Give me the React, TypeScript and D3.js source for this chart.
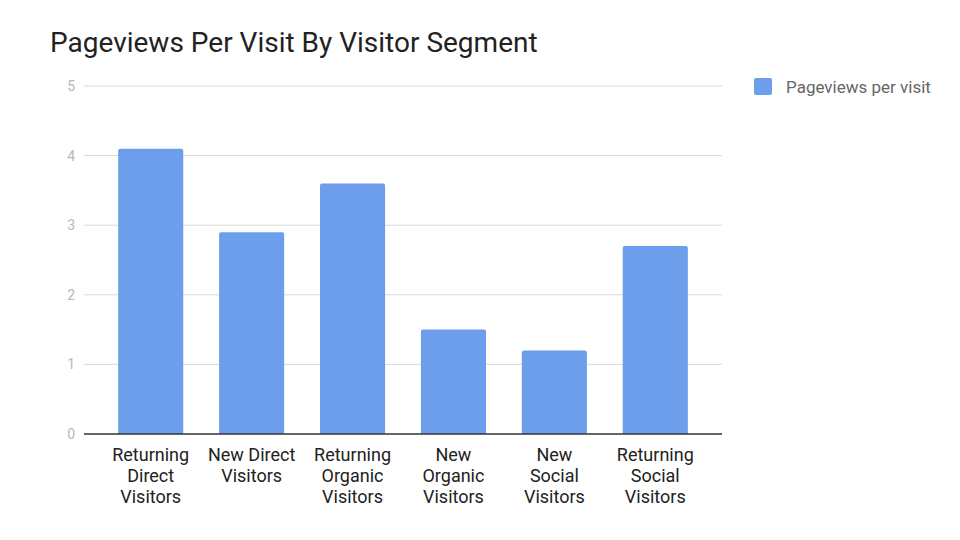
import { useEffect, useRef } from "react";
import * as d3 from "d3";

const categories = [
  ["Returning", "Direct", "Visitors"],
  ["New Direct", "Visitors"],
  ["Returning", "Organic", "Visitors"],
  ["New", "Organic", "Visitors"],
  ["New", "Social", "Visitors"],
  ["Returning", "Social", "Visitors"],
];
const pageviews = [4.1, 2.9, 3.6, 1.5, 1.2, 2.7];
const yTicks = [0, 1, 2, 3, 4, 5];
const seriesName = "Pageviews per visit";

export default function App() {
  const ref = useRef<SVGSVGElement>(null);

  useEffect(() => {
    if (!ref.current) return;
    const svg = d3.select(ref.current);
    svg.selectAll("*").remove();

    const font = "Roboto, 'Noto Sans', sans-serif";
    const left = 84, right = 722, top = 86, bottom = 434;

    const y = d3.scaleLinear().domain([0, 5]).range([bottom, top]);
    const x = d3.scaleBand<number>()
      .domain(d3.range(categories.length))
      .range([100, 706])
      .paddingInner(0.355)
      .paddingOuter(0.18);

    svg.append("text")
      .attr("x", 50).attr("y", 52)
      .attr("font-family", font).attr("font-size", 28)
      .attr("fill", "#222")
      .text("Pageviews Per Visit By Visitor Segment");

    // gridlines
    svg.append("g").selectAll("line")
      .data(yTicks.filter(t => t > 0))
      .join("line")
      .attr("x1", left).attr("x2", right)
      .attr("y1", d => y(d)).attr("y2", d => y(d))
      .attr("stroke", "#d9d9d9").attr("stroke-width", 1);

    svg.append("g").selectAll("text")
      .data(yTicks)
      .join("text")
      .attr("x", 75).attr("y", d => y(d) + 5)
      .attr("text-anchor", "end")
      .attr("font-family", font).attr("font-size", 14)
      .attr("fill", "#b7b7b7")
      .text(d => d);

    // bars with slightly rounded tops
    svg.append("g").selectAll("path")
      .data(pageviews)
      .join("path")
      .attr("fill", "#6d9eeb")
      .attr("d", (d, i) => {
        const x0 = x(i)!, w = x.bandwidth(), y0 = y(d), r = 2;
        return `M${x0},${bottom}V${y0 + r}Q${x0},${y0} ${x0 + r},${y0}H${x0 + w - r}Q${x0 + w},${y0} ${x0 + w},${y0 + r}V${bottom}Z`;
      });

    svg.append("line")
      .attr("x1", left).attr("x2", right)
      .attr("y1", bottom).attr("y2", bottom)
      .attr("stroke", "#333").attr("stroke-width", 1.3);

    // category labels
    const lab = svg.append("g").selectAll("text")
      .data(categories)
      .join("text")
      .attr("text-anchor", "middle")
      .attr("font-family", font).attr("font-size", 18)
      .attr("fill", "#222");
    lab.selectAll("tspan")
      .data((d, i) => d.map(s => ({ s, i })))
      .join("tspan")
      .attr("x", d => x(d.i)! + x.bandwidth() / 2)
      .attr("y", (d, j) => 461 + j * 21)
      .text(d => d.s);

    // legend
    svg.append("rect")
      .attr("x", 754).attr("y", 78).attr("width", 18).attr("height", 17)
      .attr("rx", 2)
      .attr("fill", "#6d9eeb");
    svg.append("text")
      .attr("x", 786).attr("y", 93)
      .attr("font-family", font).attr("font-size", 17)
      .attr("fill", "#666")
      .text(seriesName);
  }, []);

  return (
    <svg ref={ref} width={960} height={540}
      style={{ position: "absolute", left: 0, top: 0, background: "#fff" }} />
  );
}
